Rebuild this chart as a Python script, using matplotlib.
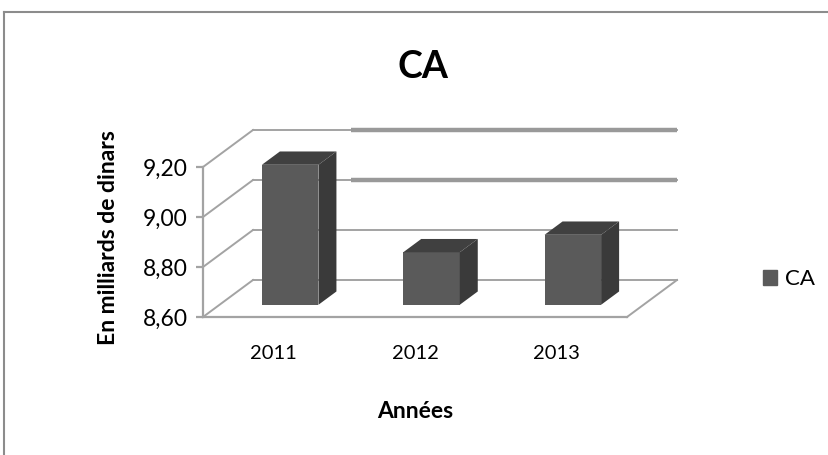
import matplotlib.pyplot as plt
from matplotlib.patches import Polygon
from matplotlib.lines import Line2D

annees = ["2011", "2012", "2013"]
ca = [9.16, 8.81, 8.88]
yticks = [8.60, 8.80, 9.00, 9.20]
ytick_labels = ["8,60", "8,80", "9,00", "9,20"]

plt.rcParams["font.family"] = ["Lato", "DejaVu Sans"]

W, H = 829, 455
fig = plt.figure(figsize=(W / 100, H / 100), dpi=100)

# front plane of the pseudo 3D box, in pixels
x0, x1 = 203, 627
y_bot, y_top = 317, 167
ax = fig.add_axes([x0 / W, 1 - y_bot / H, (x1 - x0) / W, (y_bot - y_top) / H])
ax.set_xlim(-0.5, 2.5)
ax.set_ylim(8.6, 9.2)
ax.patch.set_alpha(0)

# depth offset (data units)
DX = 50 / ((x1 - x0) / 3)
DY = 37 / ((y_bot - y_top) / 0.6)
grid_c = "#a3a3a3"
base = 8.6

# back wall grid + side wall diagonals
for v in yticks:
    ax.plot([-0.5 + DX, 2.5 + DX], [v + DY, v + DY], color=grid_c, lw=1.4, clip_on=False, zorder=1)
    ax.plot([-0.5, -0.5 + DX], [v, v + DY], color=grid_c, lw=1.4, clip_on=False, zorder=1)
# scan artefact: thick upper lines
for v in [9.0, 9.2]:
    ax.plot([0.19 + DX, 2.5 + DX], [v + DY, v + DY], color="#999999", lw=3.2,
            solid_capstyle="butt", clip_on=False, zorder=1)
# floor
ax.plot([-0.5, 2.5], [base, base], color=grid_c, lw=1.6, clip_on=False, zorder=1)
ax.plot([2.5, 2.5 + DX], [base, base + DY], color=grid_c, lw=1.4, clip_on=False, zorder=1)

for s in ["top", "right", "bottom"]:
    ax.spines[s].set_visible(False)
ax.spines["left"].set_color(grid_c)
ax.spines["left"].set_linewidth(1.6)
ax.set_yticks(yticks)
ax.set_yticklabels(ytick_labels, fontsize=16.5)
ax.tick_params(axis="y", length=5, width=1.6, color=grid_c, pad=6)
ax.set_xticks(range(len(annees)))
ax.set_xticklabels(annees, fontsize=14.5)
ax.tick_params(axis="x", length=0, pad=20)

# bars
bw = 0.40
f0, f1 = 0.33, 0.69
front_c, top_c, side_c = "#5a5a5a", "#404040", "#3a3a3a"
xs = range(len(annees))
ax.bar([x + f0 * DX for x in xs], [v - base for v in ca], bottom=base + f0 * DY,
       width=bw, color=front_c, zorder=3, clip_on=False)
for x, v in zip(xs, ca):
    l = x - bw / 2 + f0 * DX
    r = x + bw / 2 + f0 * DX
    ddx = (f1 - f0) * DX
    ddy = (f1 - f0) * DY
    yb = base + f0 * DY
    yt = v + f0 * DY
    side = Polygon([(r, yb), (r + ddx, yb + ddy), (r + ddx, yt + ddy), (r, yt)],
                   closed=True, facecolor=side_c, edgecolor="none", zorder=3, clip_on=False)
    top = Polygon([(l, yt), (l + ddx, yt + ddy), (r + ddx, yt + ddy), (r, yt)],
                  closed=True, facecolor=top_c, edgecolor="none", zorder=3, clip_on=False)
    ax.add_patch(side)
    ax.add_patch(top)

ax.set_xlabel("Années", fontsize=16.5, fontweight="bold", labelpad=28)
ax.set_ylabel("En milliards de dinars", fontsize=16.5, fontweight="bold")
ax.yaxis.set_label_coords(-0.224, 0.53)
ax.yaxis.label.set_verticalalignment("center")

fig.text(423 / W, 1 - 67 / H, "CA", fontsize=27, fontweight="bold", ha="center", va="center")

handle = plt.Rectangle((0, 0), 1, 1, color=front_c)
fig.legend([handle], ["CA"], loc="center left", bbox_to_anchor=(743 / W, 1 - 279 / H),
           frameon=False, fontsize=16, handlelength=0.65, handleheight=0.65, handletextpad=0.35)

# chart border (left and top visible)
fig.add_artist(Line2D([4 / W, 4 / W], [0, 1 - 12 / H], color="#8c8c8c", lw=1.5))
fig.add_artist(Line2D([4 / W, 1], [1 - 12 / H, 1 - 12 / H], color="#8c8c8c", lw=1.5))

fig.savefig("out.png", dpi=100)
